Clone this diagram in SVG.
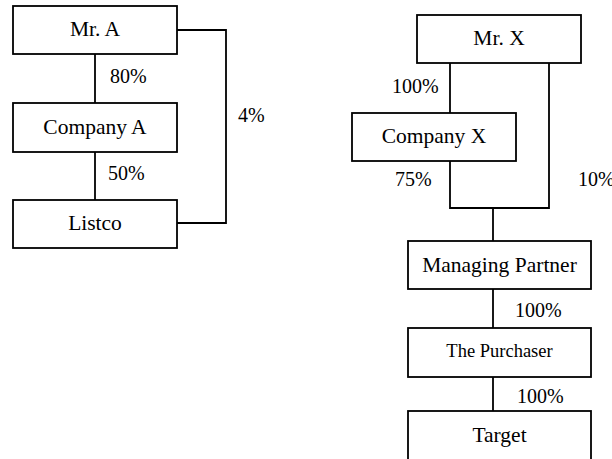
<svg xmlns="http://www.w3.org/2000/svg" width="612" height="459" viewBox="0 0 612 459">
<style>
.box{fill:#fff;stroke:#000;stroke-width:1.8}
.ln{fill:none;stroke:#000;stroke-width:1.8}
text{font-family:"Liberation Serif","Times New Roman",serif;font-size:20px;fill:#000}
.c{text-anchor:middle;font-size:21.5px}
</style>
<rect width="612" height="459" fill="#fff"/>
<g id="connectors">
<path class="ln" d="M95,54 V103"/>
<path class="ln" d="M95,152 V200"/>
<path class="ln" d="M177,30 H226 V223 H177"/>
<path class="ln" d="M450,63 V113"/>
<path class="ln" d="M450,161 V208 H549 V63"/>
<path class="ln" d="M493,208 V241"/>
<path class="ln" d="M493,289 V328"/>
<path class="ln" d="M493,377 V411"/>
<text x="110" y="83">80%</text>
<text x="108" y="180">50%</text>
<text x="238" y="122">4%</text>
<text x="392" y="93">100%</text>
<text x="395" y="186">75%</text>
<text x="578" y="186">10%</text>
<text x="515" y="317">100%</text>
<text x="517" y="403">100%</text>
</g>
<g id="mrA"><rect class="box" x="13" y="6" width="164" height="48"/><text class="c" x="95" y="36">Mr. A</text></g>
<g id="companyA"><rect class="box" x="13" y="103" width="164" height="49"/><text class="c" x="95" y="134">Company A</text></g>
<g id="listco"><rect class="box" x="13" y="200" width="164" height="48"/><text class="c" x="95" y="230">Listco</text></g>
<g id="mrX"><rect class="box" x="417" y="15" width="164" height="48"/><text class="c" x="499" y="45">Mr. X</text></g>
<g id="companyX"><rect class="box" x="352" y="113" width="164" height="48"/><text class="c" x="434" y="143">Company X</text></g>
<g id="managingPartner"><rect class="box" x="408" y="241" width="183" height="48"/><text class="c" x="499.5" y="272">Managing Partner</text></g>
<g id="purchaser"><rect class="box" x="408" y="328" width="183" height="49"/><text class="c" x="499.5" y="357" style="font-size:18.5px">The Purchaser</text></g>
<g id="target"><rect class="box" x="408" y="411" width="183" height="50"/><text class="c" x="499.5" y="442">Target</text></g>
</svg>
